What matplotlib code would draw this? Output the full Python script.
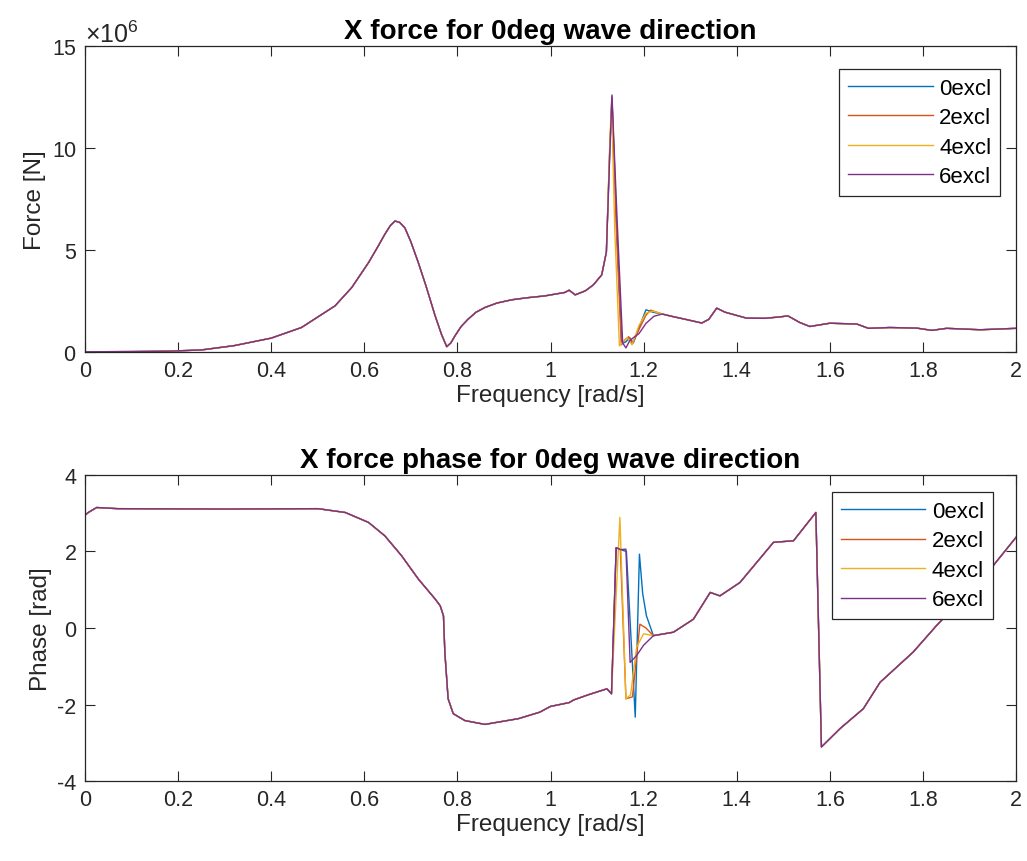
import matplotlib
matplotlib.use("Agg")
import matplotlib.pyplot as plt
from matplotlib.ticker import FormatStrFormatter, ScalarFormatter
import numpy as np

plt.rcParams['font.family'] = ['Liberation Sans', 'DejaVu Sans']
plt.rcParams['mathtext.fontset'] = 'custom'
plt.rcParams['mathtext.rm'] = 'Liberation Sans'
plt.rcParams['axes.unicode_minus'] = False

labels = ['0excl', '2excl', '4excl', '6excl']
colors = ['#0072BD', '#D95319', '#EDB120', '#7E2F8E']

# force magnitude [MN], shared parts of the curve
freq_force_left = [0.0, 0.1, 0.18, 0.25, 0.32, 0.4, 0.465, 0.537, 0.573, 0.609, 0.63, 0.644,
                   0.656, 0.666, 0.676, 0.687, 0.70, 0.716, 0.733, 0.752, 0.766, 0.777,
                   0.786, 0.795, 0.808, 0.823, 0.84, 0.859, 0.885, 0.917, 0.95, 0.988,
                   1.031, 1.04, 1.053, 1.075, 1.092, 1.11, 1.12]
force_left = [0.01, 0.02, 0.04, 0.1, 0.31, 0.68, 1.2, 2.26, 3.16, 4.38, 5.2, 5.77,
              6.2, 6.42, 6.35, 6.09, 5.4, 4.38, 3.2, 1.78, 0.85, 0.26,
              0.45, 0.8, 1.25, 1.61, 1.95, 2.18, 2.4, 2.56, 2.66, 2.75,
              2.92, 3.03, 2.8, 3.0, 3.29, 3.78, 4.9]
freq_force_right = [1.26, 1.29, 1.325, 1.34, 1.357, 1.375, 1.421, 1.46, 1.493, 1.51, 1.535,
                    1.557, 1.6, 1.658, 1.683, 1.729, 1.787, 1.819, 1.851, 1.923, 2.0]
force_right = [1.75, 1.6, 1.42, 1.6, 2.15, 1.95, 1.66, 1.65, 1.72, 1.77, 1.45,
               1.25, 1.41, 1.37, 1.16, 1.2, 1.17, 1.06, 1.16, 1.09, 1.16]

# per-case segments around the resonance
freq_force_0 = [1.127, 1.132, 1.142, 1.153, 1.162, 1.170, 1.178, 1.192, 1.205, 1.22, 1.24]
force_0 = [9.7, 12.5, 6.3, 0.4, 0.5, 0.7, 0.45, 1.3, 2.07, 1.95, 1.86]
freq_force_2 = [1.127, 1.132, 1.141, 1.152, 1.160, 1.168, 1.176, 1.19, 1.205, 1.215, 1.24]
force_2 = [9.8, 12.4, 6.2, 0.35, 0.6, 0.75, 0.4, 1.1, 1.8, 2.05, 1.86]
freq_force_4 = [1.127, 1.131, 1.138, 1.148, 1.156, 1.165, 1.175, 1.19, 1.205, 1.22, 1.24]
force_4 = [10.0, 12.3, 6.0, 0.3, 0.5, 0.7, 0.35, 1.3, 1.9, 2.0, 1.86]
freq_force_6 = [1.127, 1.132, 1.143, 1.155, 1.162, 1.170, 1.178, 1.19, 1.205, 1.222, 1.24]
force_6 = [9.5, 12.6, 6.5, 0.44, 0.2, 0.55, 0.7, 0.9, 1.4, 1.75, 1.86]

# phase [rad], shared parts
freq_phase_left = [0.0, 0.007, 0.025, 0.07, 0.3, 0.5, 0.559, 0.609, 0.644, 0.68, 0.716, 0.752,
                   0.763, 0.77, 0.773, 0.78, 0.791, 0.816, 0.859, 0.931, 0.977, 1.0, 1.04,
                   1.05, 1.08, 1.121, 1.131]
phase_left = [2.95, 3.02, 3.15, 3.12, 3.11, 3.12, 3.02, 2.76, 2.41, 1.89, 1.28, 0.76,
              0.58, 0.32, -0.64, -1.85, -2.24, -2.42, -2.52, -2.37, -2.2, -2.05, -1.95,
              -1.88, -1.75, -1.59, -1.72]
freq_phase_right = [1.264, 1.307, 1.343, 1.364, 1.407, 1.479, 1.522, 1.570, 1.582, 1.622,
                    1.672, 1.708, 1.779, 1.829, 1.951, 2.0]
phase_right = [-0.11, 0.23, 0.93, 0.84, 1.19, 2.24, 2.28, 3.02, -3.11, -2.63,
               -2.11, -1.42, -0.63, 0.06, 1.63, 2.37]

freq_phase_0 = [1.141, 1.150, 1.163, 1.182, 1.191, 1.198, 1.206, 1.221]
phase_0 = [2.1, 2.05, 2.0, -2.33, 1.93, 0.9, 0.32, -0.2]
freq_phase_2 = [1.141, 1.150, 1.162, 1.176, 1.192, 1.205, 1.221]
phase_2 = [2.1, 2.05, -1.85, -1.8, 0.1, 0.0, -0.2]
freq_phase_4 = [1.149, 1.162, 1.172, 1.185, 1.2, 1.221]
phase_4 = [2.89, -1.85, -1.75, -0.5, -0.15, -0.2]
freq_phase_6 = [1.141, 1.150, 1.162, 1.171, 1.185, 1.2, 1.221]
phase_6 = [2.1, 2.05, 2.06, -0.9, -0.72, -0.45, -0.2]

force_cases = [(freq_force_0, force_0), (freq_force_2, force_2),
               (freq_force_4, force_4), (freq_force_6, force_6)]
phase_cases = [(freq_phase_0, phase_0), (freq_phase_2, phase_2),
               (freq_phase_4, phase_4), (freq_phase_6, phase_6)]

axis_gray = '#262626'
tick_fs = 15.5
label_fs = 17.5
title_fs = 20
legend_fs = 16


def style_axes(ax):
    ax.set_xlim(0, 2)
    ax.set_xticks(np.arange(0, 2.01, 0.2))
    ax.xaxis.set_major_formatter(FormatStrFormatter('%g'))
    ax.tick_params(direction='in', length=7, width=0.8, top=True, right=True,
                   labelsize=tick_fs, colors=axis_gray, pad=6)
    for s in ax.spines.values():
        s.set_color(axis_gray)
        s.set_linewidth(0.9)
    ax.set_xlabel('Frequency [rad/s]', fontsize=label_fs, color=axis_gray, labelpad=2)


def add_legend(ax, anchor):
    leg = ax.legend(loc='upper right', bbox_to_anchor=anchor, borderaxespad=0,
                    fontsize=legend_fs, fancybox=False, framealpha=1, handlelength=3.8,
                    labelspacing=0.38, handletextpad=0.3, borderpad=0.4)
    leg.get_frame().set_edgecolor('#262626')
    leg.get_frame().set_linewidth(0.9)


fig = plt.figure(figsize=(10.27, 8.62), dpi=100)
ax1 = fig.add_axes([0.0828, 0.5905, 0.9065, 0.355])
ax2 = fig.add_axes([0.0828, 0.0928, 0.9065, 0.355])

for (fx, fy), lab, c in zip(force_cases, labels, colors):
    x = np.concatenate([freq_force_left, fx, freq_force_right])
    y = np.concatenate([force_left, fy, force_right]) * 1e6
    ax1.plot(x, y, color=c, lw=1.0, label=lab)

for (px, py), lab, c in zip(phase_cases, labels, colors):
    x = np.concatenate([freq_phase_left, px, freq_phase_right])
    y = np.concatenate([phase_left, py, phase_right])
    ax2.plot(x, y, color=c, lw=1.0, label=lab)

style_axes(ax1)
ax1.set_ylim(0, 15e6)
ax1.set_yticks([0, 5e6, 10e6, 15e6])
fmt = ScalarFormatter(useMathText=True)
fmt.set_powerlimits((6, 6))
ax1.yaxis.set_major_formatter(fmt)
ax1.yaxis.get_offset_text().set_fontsize(18)
ax1.yaxis.get_offset_text().set_color(axis_gray)
ax1.set_ylabel('Force [N]', fontsize=label_fs, color=axis_gray)
ax1.set_title('X force for 0deg wave direction', fontsize=title_fs, fontweight='bold', pad=6)
add_legend(ax1, (0.983, 0.925))

style_axes(ax2)
ax2.set_ylim(-4, 4)
ax2.set_yticks([-4, -2, 0, 2, 4])
ax2.set_ylabel('Phase [rad]', fontsize=label_fs, color=axis_gray)
ax2.set_title('X force phase for 0deg wave direction', fontsize=title_fs, fontweight='bold', pad=6)
add_legend(ax2, (0.975, 0.944))

fig.savefig('out.png', dpi=100)
